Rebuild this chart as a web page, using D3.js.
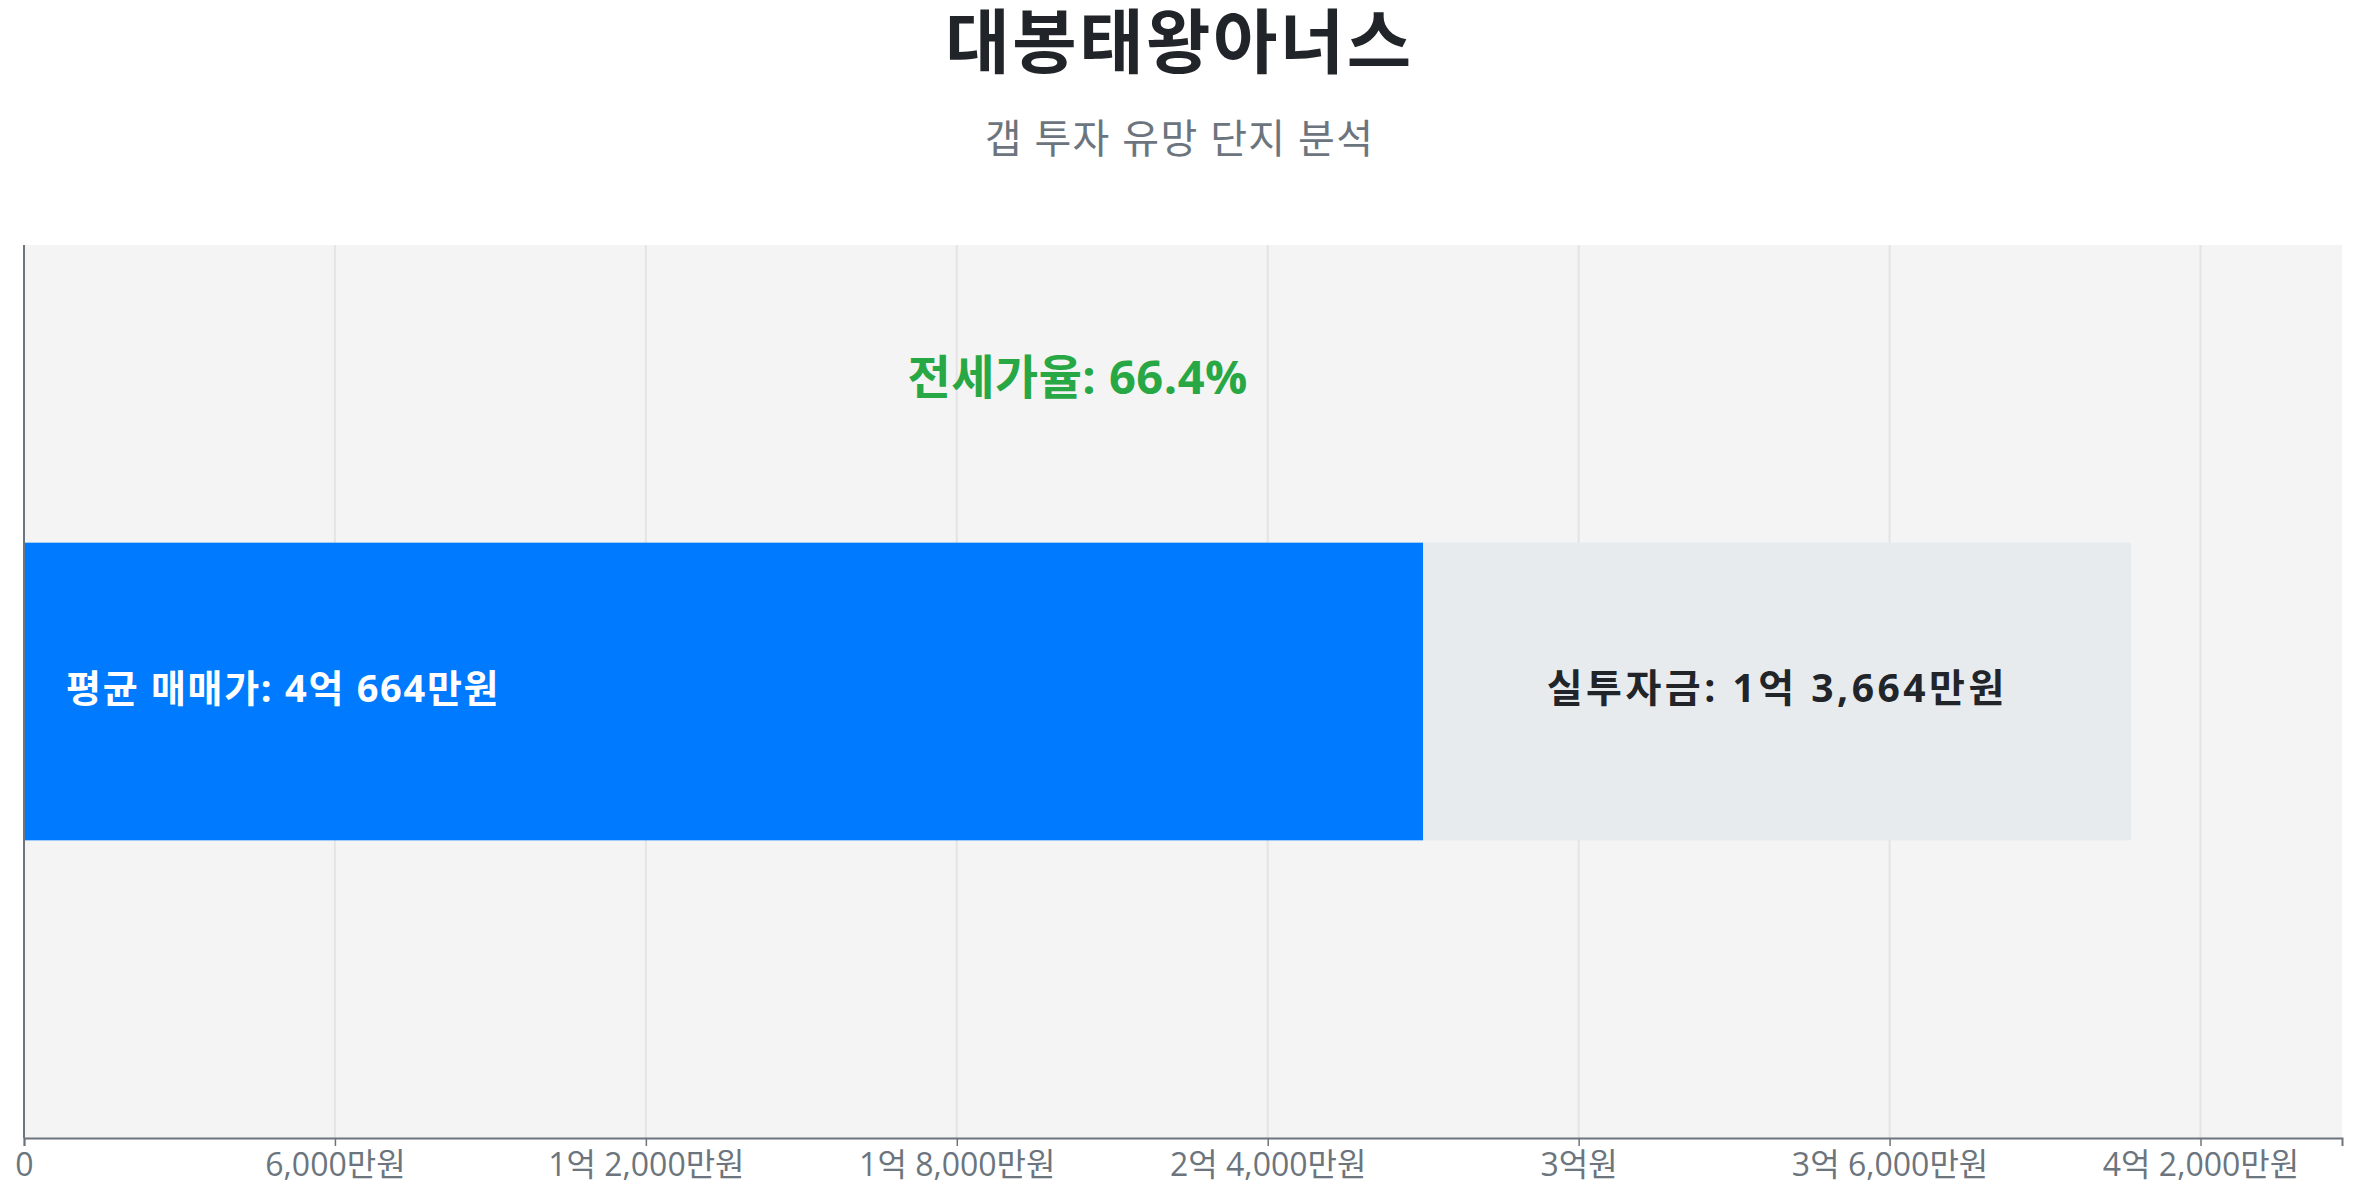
<!DOCTYPE html>
<html>
<head>
<meta charset="utf-8">
<script src="https://cdn.jsdelivr.net/npm/d3@7"></script>
<style>
  body { margin: 0; background: #fff; }
  svg text { font-family: "Open Sans", "Noto Sans CJK KR", sans-serif; }
</style>
</head>
<body>
<div id="chart"></div>
<script>
// data (unit: 만원)
let complexName = ["대봉태왕아너스"];
let salePrice = [40664];
let jeonsePrice = [27000];
let gapAmount = [13664];
let tickValues = [0, 6000, 12000, 18000, 24000, 30000, 36000, 42000];

let svgWidth = 2357;
let svgHeight = 1200;

var margin = { top: 245, right: 15, bottom: 62, left: 24 };

let width = svgWidth - margin.left - margin.right;
let height = svgHeight - margin.top - margin.bottom;

// format 만원 values to 억/만원 text
function fmtWon(v) {
  if (v === 0) return "0";
  let eok = Math.floor(v / 10000);
  let man = v % 10000;
  if (eok > 0 && man > 0) return `${eok}억 ${d3.format(",")(man)}만원`;
  if (eok > 0) return `${eok}억원`;
  return `${d3.format(",")(man)}만원`;
}

let svg = d3.select("#chart")
  .append("svg")
  .attr("width", svgWidth)
  .attr("height", svgHeight);

// titles
svg.append("text")
  .attr("x", svgWidth / 2 + 1)
  .attr("y", 68)
  .attr("text-anchor", "middle")
  .attr("font-family", "Noto Sans CJK KR")
  .attr("font-size", 70)
  .attr("font-weight", 700)
  .attr("letter-spacing", 2.5)
  .attr("fill", "#212529")
  .text(complexName[0]);

svg.append("text")
  .attr("x", svgWidth / 2 + 1)
  .attr("y", 153)
  .attr("text-anchor", "middle")
  .attr("font-size", 40)
  .attr("letter-spacing", 1.3)
  .attr("fill", "#6c757d")
  .text("갭 투자 유망 단지 분석");

var chartGroup = svg.append("g")
  .attr("transform", `translate(${margin.left}, ${margin.top})`);

// scales
var xLinearScale = d3.scaleLinear()
  .domain([0, d3.max(salePrice) * 1.1])
  .range([0, width]);

var yBandScale = d3.scaleBand()
  .domain(complexName)
  .range([0, height])
  .padding(0.5);

// plot background
chartGroup.append("rect")
  .attr("width", width)
  .attr("height", height)
  .attr("fill", "#f4f4f4");

// grid lines
chartGroup.append("g")
  .selectAll("line")
  .data(tickValues.slice(1))
  .enter()
  .append("line")
  .attr("x1", d => xLinearScale(d))
  .attr("x2", d => xLinearScale(d))
  .attr("y1", 0)
  .attr("y2", height)
  .attr("stroke", "#e4e4e4")
  .attr("stroke-width", 2);

// bars: jeonse part (blue) and gap part (gray)
chartGroup.selectAll(".bar-jeonse")
  .data(complexName)
  .enter()
  .append("rect")
  .attr("class", "bar-jeonse")
  .attr("x", xLinearScale(0))
  .attr("y", d => yBandScale(d))
  .attr("width", (d, i) => xLinearScale(jeonsePrice[i]))
  .attr("height", yBandScale.bandwidth())
  .attr("fill", "#007bff");

chartGroup.selectAll(".bar-gap")
  .data(complexName)
  .enter()
  .append("rect")
  .attr("class", "bar-gap")
  .attr("x", (d, i) => xLinearScale(jeonsePrice[i]))
  .attr("y", d => yBandScale(d))
  .attr("width", (d, i) => xLinearScale(jeonsePrice[i] + gapAmount[i]) - xLinearScale(jeonsePrice[i]))
  .attr("height", yBandScale.bandwidth())
  .attr("fill", "#e8ebee");

// axes
let bottomAxis = d3.axisBottom(xLinearScale)
  .tickValues(tickValues)
  .tickFormat(fmtWon)
  .tickSizeOuter(0)
  .tickSize(8)
  .tickPadding(6);

let xAxisG = chartGroup.append("g")
  .attr("transform", `translate(0, ${height})`)
  .call(bottomAxis);

xAxisG.select(".domain").attr("stroke", "#6c757d").attr("stroke-width", 2);
xAxisG.selectAll(".tick line").attr("stroke", "#6c757d").attr("stroke-width", 1.5);
xAxisG.selectAll(".tick text")
  .attr("font-size", 32)
  .attr("fill", "#6c757d")
  .attr("font-family", null)
  .attr("dy", "0.76em");

chartGroup.append("line")
  .attr("x1", 0).attr("x2", 0)
  .attr("y1", 0).attr("y2", height)
  .attr("stroke", "#6c757d")
  .attr("stroke-width", 2);

// labels
complexName.forEach(function(name, i) {
  let yMid = yBandScale(name) + yBandScale.bandwidth() / 2;

  chartGroup.append("text")
    .attr("x", xLinearScale(0) + 42)
    .attr("y", yMid)
    .attr("dy", "0.28em")
    .attr("font-size", 38)
    .attr("font-weight", 700)
    .attr("letter-spacing", 1.7)
    .attr("fill", "#fff")
    .text(`평균 매매가: ${fmtWon(salePrice[i])}`);

  chartGroup.append("text")
    .attr("x", (xLinearScale(jeonsePrice[i]) + xLinearScale(jeonsePrice[i] + gapAmount[i])) / 2)
    .attr("y", yMid)
    .attr("dy", "0.28em")
    .attr("text-anchor", "middle")
    .attr("font-size", 39)
    .attr("font-weight", 700)
    .attr("letter-spacing", 3.5)
    .attr("fill", "#212529")
    .text(`실투자금: ${fmtWon(gapAmount[i])}`);

  let ratio = jeonsePrice[i] / salePrice[i] * 100;
  chartGroup.append("text")
    .attr("x", xLinearScale(salePrice[i] / 2))
    .attr("y", yBandScale(name) / 2)
    .attr("text-anchor", "middle")
    .attr("font-size", 47)
    .attr("font-weight", 700)
    .attr("letter-spacing", 0.5)
    .attr("fill", "#28a745")
    .text(`전세가율: ${ratio.toFixed(1)}%`);
});
</script>
</body>
</html>
